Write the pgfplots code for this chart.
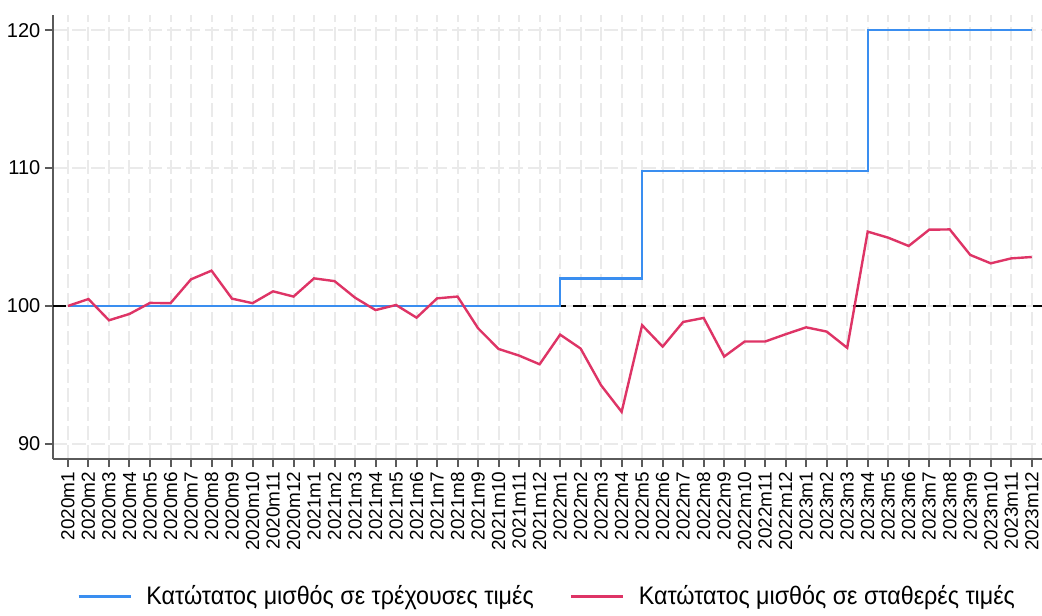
\documentclass[border=0pt]{standalone}
\usepackage{fontspec}
\setmainfont{Liberation Sans}
\newfontfamily\legfont{Liberation Sans}[FakeStretch=0.92]
\usepackage{pgfplots}
\usepackage{pgfplotstable}
\pgfplotsset{compat=1.18}
\definecolor{curblue}{HTML}{3A8EF0}
\definecolor{realred}{HTML}{DE3466}
\definecolor{gridgray}{HTML}{EAEAEA}
\definecolor{axgray}{HTML}{5A5A5A}

% month index, nominal wage index, real wage index
\pgfplotstableread{
idx cur real
0 100 100.0
1 100 100.5
2 100 98.96
3 100 99.42
4 100 100.22
5 100 100.2
6 100 101.93
7 100 102.56
8 100 100.53
9 100 100.2
10 100 101.06
11 100 100.68
12 100 102.0
13 100 101.8
14 100 100.6
15 100 99.7
16 100 100.07
17 100 99.15
18 100 100.55
19 100 100.68
20 100 98.38
21 100 96.88
22 100 96.4
23 100 95.77
24 102 97.92
25 102 96.91
26 102 94.24
27 102 92.32
28 109.8 98.6
29 109.8 97.05
30 109.8 98.84
31 109.8 99.13
32 109.8 96.33
33 109.8 97.42
34 109.8 97.42
35 109.8 97.95
36 109.8 98.45
37 109.8 98.14
38 109.8 96.96
39 120 105.39
40 120 104.95
41 120 104.35
42 120 105.53
43 120 105.55
44 120 103.7
45 120 103.09
46 120 103.45
47 120 103.55
}\wage

\begin{document}
\begin{tikzpicture}
\begin{axis}[
  name=ax,
  scale only axis, width=741.75pt, height=333pt,
  xmin=-0.73, xmax=47.5, ymin=88.9, ymax=121.1,
  axis x line*=bottom, axis y line*=left,
  axis line style={axgray, line width=1.5pt},
  tick style={axgray, line width=1.5pt},
  tick align=outside, major tick length=6pt,
  xtick={0,...,47},
  xticklabels={2020m1,2020m2,2020m3,2020m4,2020m5,2020m6,2020m7,2020m8,2020m9,2020m10,2020m11,2020m12,
    2021m1,2021m2,2021m3,2021m4,2021m5,2021m6,2021m7,2021m8,2021m9,2021m10,2021m11,2021m12,
    2022m1,2022m2,2022m3,2022m4,2022m5,2022m6,2022m7,2022m8,2022m9,2022m10,2022m11,2022m12,
    2023m1,2023m2,2023m3,2023m4,2023m5,2023m6,2023m7,2023m8,2023m9,2023m10,2023m11,2023m12},
  x tick label style={rotate=90, anchor=east, font=\fontsize{14.2}{14.2}\selectfont},
  ytick={90,100,110,120},
  y tick label style={font=\fontsize{15}{15}\selectfont},
  /pgf/number format/assume math mode=true,
  grid=major,
  major grid style={gridgray, line width=1.5pt, dash pattern=on 10.5pt off 3.75pt},
  legend columns=2,
  legend style={at={(0.5,0)}, anchor=center, yshift=-103pt, draw=none,
    font=\legfont\fontsize{19}{19}\selectfont},
  legend cell align=left,
  /tikz/every odd column/.append style={column sep=9pt},
  /tikz/every even column/.append style={column sep=25pt},
  legend image code/.code={\draw[#1] (0pt,0pt) -- (39pt,0pt);},
]
\addplot[black, line width=1.6pt, dash pattern=on 10pt off 5pt, forget plot]
  coordinates {(-0.73,100) (47.5,100)};
\addplot[curblue, line width=1.8pt, const plot] table[x=idx, y=cur] {\wage};
\addlegendentry{Κατώτατος μισθός σε τρέχουσες τιμές}
\addplot[realred, line width=1.8pt] table[x=idx, y=real] {\wage};
\addlegendentry{Κατώτατος μισθός σε σταθερές τιμές}
\end{axis}
\pgfresetboundingbox
\path ([xshift=-39.75pt,yshift=-117pt]ax.south west) rectangle ([yshift=11.25pt]ax.north east);
\end{tikzpicture}
\end{document}
